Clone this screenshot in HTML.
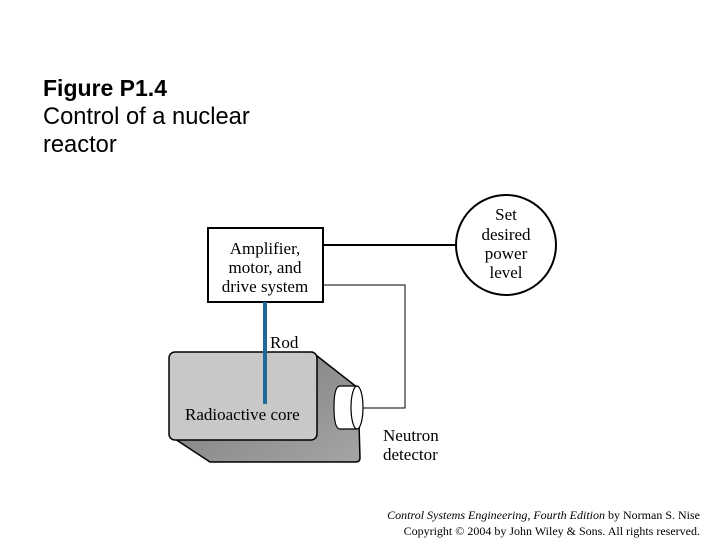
<!DOCTYPE html>
<html><head><style>
body{margin:0;width:720px;height:540px;background:#fff;position:relative;overflow:hidden}
.t{position:absolute;left:43px;top:74px;font-family:"Liberation Sans",sans-serif;font-size:23.7px;line-height:28px;color:#000}
.t b{font-size:23px}
.c{position:absolute;right:20px;top:507px;font-family:"Liberation Serif",serif;font-size:12px;line-height:16px;text-align:right;color:#000}
</style></head><body>
<div class="t"><b>Figure P1.4</b><br>Control of a nuclear<br>reactor</div>
<svg width="720" height="540" style="position:absolute;left:0;top:0" font-family="Liberation Serif, serif">
<defs><linearGradient id="g" x1="0" y1="0" x2="1" y2="1"><stop offset="0" stop-color="#777"/><stop offset="1" stop-color="#a5a5a5"/></linearGradient></defs>
<line x1="323" y1="245" x2="457" y2="245" stroke="#000" stroke-width="2"/>
<polyline points="323,285 405,285 405,408 358,408" fill="none" stroke="#000" stroke-width="1"/>
<circle cx="506" cy="245" r="50" fill="#fff" stroke="#000" stroke-width="2"/>
<text font-size="17" text-anchor="middle"><tspan x="506" y="220">Set</tspan><tspan x="506" y="240">desired</tspan><tspan x="506" y="259">power</tspan><tspan x="506" y="278">level</tspan></text>
<rect x="208" y="228" width="115" height="74" fill="#fff" stroke="#000" stroke-width="2"/>
<text font-size="17" text-anchor="middle"><tspan x="265" y="254">Amplifier,</tspan><tspan x="265" y="273">motor, and</tspan><tspan x="265" y="292">drive system</tspan></text>
<path d="M312,352 L358,388 L360,458 Q360,462 355,462 L210,462 L172,437 Z" fill="url(#g)" stroke="#000" stroke-width="1.5"/>
<rect x="169" y="352" width="148" height="88" rx="6" fill="#c8c8c8" stroke="#000" stroke-width="1.5"/>
<path d="M340,386 L357,386 L357,429 L340,429 Q334,429 334,407.5 Q334,386 340,386 Z" fill="#fff" stroke="#000" stroke-width="1.2"/>
<ellipse cx="357" cy="407.5" rx="6" ry="21.5" fill="#fff" stroke="#000" stroke-width="1.2"/>
<line x1="265" y1="302" x2="265" y2="404" stroke="#1f6a96" stroke-width="4"/>
<text font-size="17" x="270" y="348">Rod</text>
<text font-size="17" x="185" y="420">Radioactive core</text>
<text font-size="17"><tspan x="383" y="441">Neutron</tspan><tspan x="383" y="460">detector</tspan></text>
</svg>
<div class="c"><i>Control Systems Engineering, Fourth Edition</i> by Norman S. Nise<br>Copyright © 2004 by John Wiley &amp; Sons. All rights reserved.</div>
</body></html>
